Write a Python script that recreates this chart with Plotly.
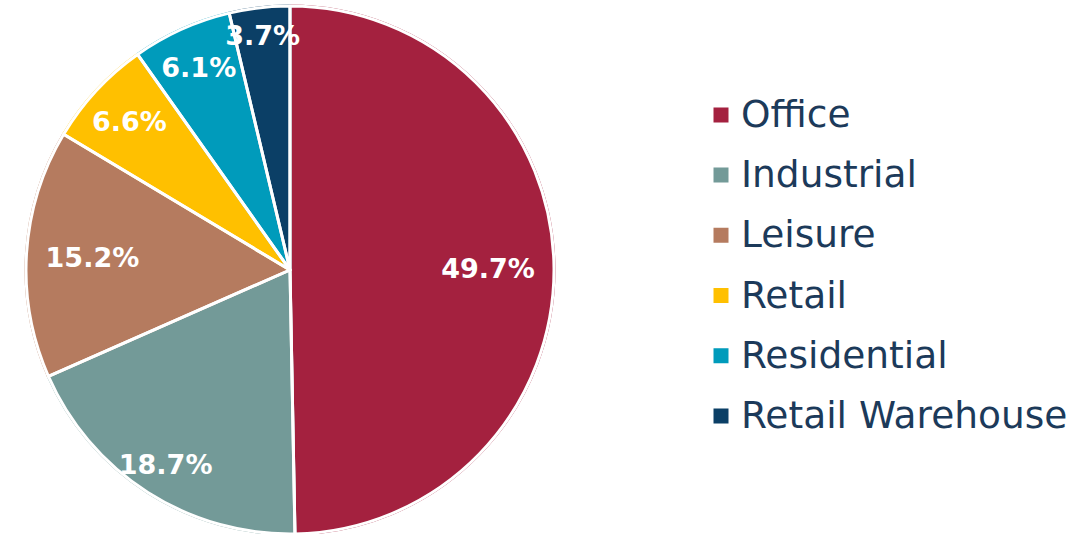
import plotly.graph_objects as go

categories = ["Office", "Industrial", "Leisure", "Retail", "Residential", "Retail Warehouse"]
values = [49.7, 18.7, 15.2, 6.6, 6.1, 3.7]
colors = ["#A4213F", "#739A98", "#B57B5F", "#FFC000", "#009BBB", "#0B3F66"]
# label placement group per slice: "in" = default inside fit, "mid" / "outer" = ring placement
label_group = ["mid", "outer", "mid", "in", "in", "in"]

legend_labels = ['<span style="font-size:37.5px;baseline-shift:5px">%s</span>' % c for c in categories]
label_font = dict(family="DejaVu Sans", size=27, color="white", weight="bold")
domain = dict(x=[26/1084, 554/1084], y=[0, 1])

common = dict(labels=legend_labels, values=values, sort=False, direction="clockwise",
              rotation=0, domain=domain, textposition="inside",
              insidetextorientation="horizontal", textfont=label_font)

fig = go.Figure()
# coloured slices (line in slice colour so the legend squares are full size)
fig.add_trace(go.Pie(
    marker=dict(colors=colors, line=dict(color=colors, width=3)),
    texttemplate=[""] * len(values),
    hoverinfo="label+value",
    **common,
))
# white slice borders + labels of small slices
fig.add_trace(go.Pie(
    marker=dict(colors=["rgba(0,0,0,0)"] * len(values), line=dict(color="white", width=3)),
    texttemplate=["%{value:.1f}%" if g == "in" else "" for g in label_group],
    hoverinfo="skip", showlegend=False,
    **common,
))
# labels of large slices placed in rings
for grp, hole in (("mid", 0.5), ("outer", 0.75)):
    fig.add_trace(go.Pie(
        hole=hole,
        marker=dict(colors=["rgba(0,0,0,0)"] * len(values), line=dict(width=0)),
        texttemplate=["%{value:.1f}%" if g == grp else "" for g in label_group],
        hoverinfo="skip", showlegend=False,
        **common,
    ))

fig.update_layout(
    width=1084, height=534,
    margin=dict(l=0, r=0, t=6, b=0),
    paper_bgcolor="white",
    plot_bgcolor="white",
    showlegend=True,
    legend=dict(
        x=701/1084, xanchor="left",
        y=0.508, yanchor="middle",
        font=dict(family="DejaVu Sans", size=44, color="#1C3A5A"),
        bgcolor="rgba(0,0,0,0)",
    ),
    uniformtext=dict(minsize=27, mode="show"),
)

fig.write_html("out.html", config={"displayModeBar": False},
               post_script="document.body.style.margin='0px';")
